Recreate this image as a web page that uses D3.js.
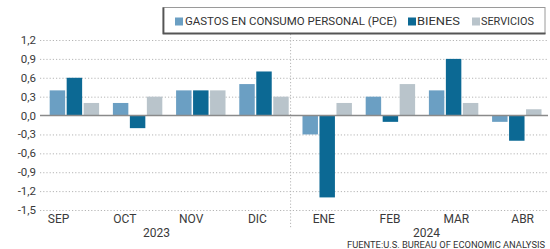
<!DOCTYPE html>
<html>
<head>
<meta charset="utf-8">
<script src="https://cdn.jsdelivr.net/npm/d3@7"></script>
<style>
  body { margin: 0; background: #fff; }
  svg { display: block; font-family: Roboto, "DejaVu Sans", sans-serif; }
  .grid line { stroke: #b5b5b5; stroke-dasharray: 1.2,2; }
  .tick-label { fill: #3a3a3a; font-size: 11.5px; }
</style>
</head>
<body>
<svg id="chart" width="550" height="249"></svg>
<script>
let months = ["SEP", "OCT", "NOV", "DIC", "ENE", "FEB", "MAR", "ABR"];
let seriesNames = ["GASTOS EN CONSUMO PERSONAL (PCE)", "BIENES", "SERVICIOS"];
let pce       = [0.4, 0.2, 0.4, 0.5, -0.3, 0.3, 0.4, -0.1];
let bienes    = [0.6, -0.2, 0.4, 0.7, -1.3, -0.1, 0.9, -0.4];
let servicios = [0.2, 0.3, 0.4, 0.3, 0.2, 0.5, 0.2, 0.1];
let yTicks = [1.2, 0.9, 0.6, 0.3, 0, -0.3, -0.6, -0.9, -1.2, -1.5];
let years = [{label: "2023", from: "SEP", to: "DIC"}, {label: "2024", from: "ENE", to: "ABR"}];
let source = "FUENTE:U.S. BUREAU OF ECONOMIC ANALYSIS";
let colors = ["#6b9fc3", "#0c6994", "#b9c4cb"];

let svg = d3.select("#chart");

let y = d3.scaleLinear().domain([-1.5, 1.2]).range([210, 40]);
// bar groups
let x0 = d3.scaleBand().domain(months).range([42.8, 548.4]).paddingInner(0.218).paddingOuter(0.109);
let x1 = d3.scaleBand().domain(d3.range(3)).range([0, x0.bandwidth()]).paddingInner(0.09);
// month labels sit on a slightly different grid in the original
let xl = d3.scaleBand().domain(months).range([25.4, 555.8]);

let gridLeft = 40, gridRight = 548;

// gridlines
svg.append("g").attr("class", "grid")
  .selectAll("line")
  .data(yTicks.filter(d => d !== 0))
  .enter().append("line")
  .attr("x1", gridLeft).attr("x2", gridRight)
  .attr("y1", d => y(d) + 0.5).attr("y2", d => y(d) + 0.5)
;

// y labels
svg.append("g")
  .selectAll("text")
  .data(yTicks)
  .enter().append("text")
  .attr("class", "tick-label")
  .attr("x", 36).attr("y", d => y(d))
  .attr("dy", "0.35em")
  .attr("text-anchor", "end")
  .text(d => d3.format(".1f")(d).replace(".", ",").replace("−", "-"))
;

// year separator
let sepX = (x0("DIC") + x0.bandwidth() + x0("ENE")) / 2 - 5;
svg.append("line")
  .attr("x1", sepX).attr("x2", sepX)
  .attr("y1", 34).attr("y2", 229)
  .attr("stroke", "#b5b5b5").attr("stroke-dasharray", "1.2,2")
;

// bars
let rows = months.map((m, i) => ({month: m, values: [pce[i], bienes[i], servicios[i]]}));
let groups = svg.append("g")
  .selectAll("g")
  .data(rows)
  .enter().append("g")
  .attr("transform", d => `translate(${x0(d.month)},0)`);

groups.selectAll("rect")
  .data(d => d.values.map((v, k) => ({k: k, v: v})))
  .enter().append("rect")
  .attr("x", d => x1(d.k))
  .attr("width", x1.bandwidth())
  .attr("y", d => y(Math.max(0, d.v)))
  .attr("height", d => Math.abs(y(d.v) - y(0)))
  .attr("fill", d => colors[d.k])
;

// zero line
svg.append("line")
  .attr("x1", gridLeft).attr("x2", gridRight)
  .attr("y1", y(0)).attr("y2", y(0))
  .attr("stroke", "#8a8a8a").attr("stroke-width", 1.5)
;

// month labels
svg.append("g")
  .selectAll("text")
  .data(months)
  .enter().append("text")
  .attr("class", "tick-label")
  .attr("x", d => xl(d) + xl.bandwidth() / 2)
  .attr("y", 222.5)
  .attr("text-anchor", "middle")
  .style("font-size", "12px")
  .text(d => d)
;

// year labels
svg.append("g")
  .selectAll("text")
  .data(years)
  .enter().append("text")
  .attr("class", "tick-label")
  .attr("x", (d, i) => i === 0 ? 156.5 : 426.5)
  .attr("y", 236.5)
  .attr("text-anchor", "middle")
  .style("font-size", "12px")
  .text(d => d.label)
;

// legend
let legend = svg.append("g");
legend.append("rect")
  .attr("x", 163).attr("y", 7.5)
  .attr("width", 382).attr("height", 26)
  .attr("fill", "#fff")
  .attr("stroke", "#9a9a9a").attr("stroke-width", 1)
;
legend.append("path")
  .attr("d", "M163.5,7.5 V33.5 H545.5")
  .attr("fill", "none")
  .attr("stroke", "#555").attr("stroke-width", 1.8)
;
let legendX = [175, 408, 472];
let legendW = [212, 43, 53];
let li = legend.selectAll(".item")
  .data(seriesNames)
  .enter().append("g")
  .attr("class", "item")
  .attr("transform", (d, i) => `translate(${legendX[i]},0)`);
li.append("rect")
  .attr("x", 0).attr("y", 17.5)
  .attr("width", 8).attr("height", 8)
  .attr("fill", (d, i) => colors[i]);
li.append("text")
  .attr("x", (d, i) => i === 0 ? 10 : 9)
  .attr("y", 21.5).attr("dy", "0.35em")
  .attr("fill", "#333")
  .style("font-size", "11px")
  .attr("textLength", (d, i) => legendW[i])
  .attr("lengthAdjust", "spacingAndGlyphs")
  .text(d => d)
;

// source
svg.append("text")
  .attr("x", 545).attr("y", 247.5)
  .attr("text-anchor", "end")
  .attr("fill", "#333")
  .style("font-size", "9px")
  .attr("textLength", 198)
  .attr("lengthAdjust", "spacingAndGlyphs")
  .text(source)
;
</script>
</body>
</html>
